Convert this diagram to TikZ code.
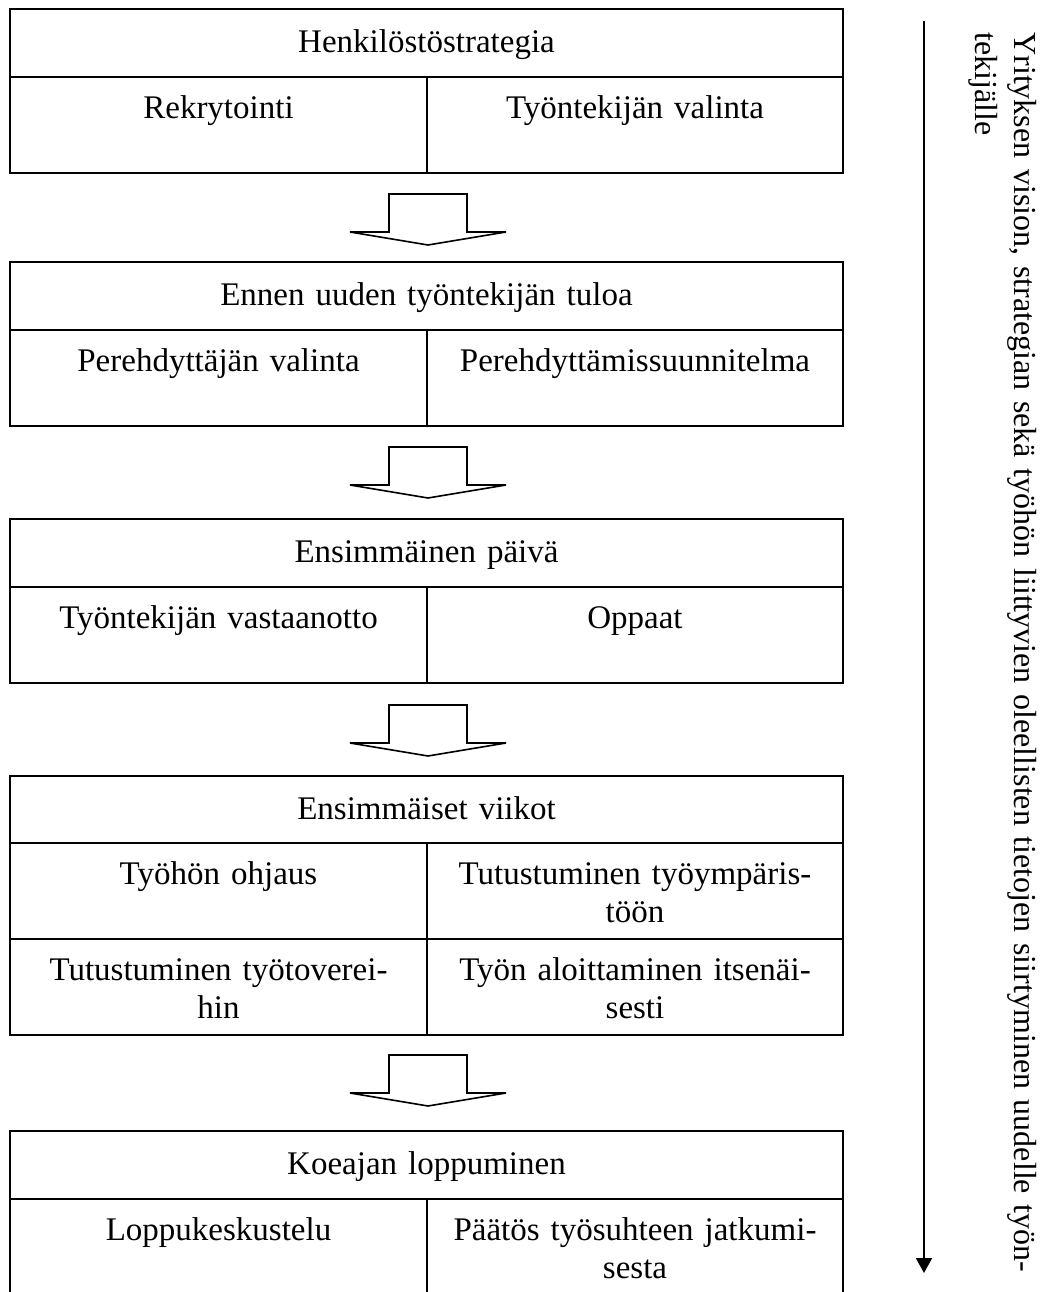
\documentclass[tikz,border=0pt]{standalone}
\usepackage{fontspec}
\setmainfont{Liberation Serif}
\usetikzlibrary{arrows.meta}

\newcommand\cellfont{\fontsize{16.5}{19}\selectfont}
\newcommand\sidefont{\fontsize{16}{19.5}\selectfont}
% fixed first-line height so every label sits on the same baseline
\newcommand\firstline{\rule{0pt}{13pt}}

% one phase: outer frame, header row and two cells below it
\newcommand\stage[5]{%
  \draw[frame] (10,#2) rectangle (843,{#2+164});
  \draw[frame] (10,{#2+68}) -- (843,{#2+68});
  \draw[frame] (427,{#2+68}) -- (427,{#2+164});
  \node[head] (#1h) at (426.5,{#2+17}) {\firstline #3};
  \node[cell] (#1l) at (218.5,{#2+83}) {\firstline #4};
  \node[cell] (#1r) at (635,{#2+83}) {\firstline #5};
}

\begin{document}
\begin{tikzpicture}[x=0.5pt,y=-0.5pt,
  frame/.style={line width=1pt},
  head/.style={anchor=north,inner sep=0pt,text width=400pt,align=center,font=\cellfont},
  cell/.style={anchor=north,inner sep=0pt,text width=205pt,align=center,font=\cellfont},
  pics/blockarrow/.style={code={
    \draw[line width=0.8pt,line join=miter]
      (-39,0) -- (39,0) -- (39,38) -- (78,38) -- (0,51) -- (-78,38) -- (-39,38) -- cycle;}},
]
\useasboundingbox (0,0) rectangle (1046,1292);
\clip (0,0) rectangle (1046,1292);

\stage{s1}{9}{Henkilöstöstrategia}{Rekrytointi}{Työntekijän valinta}
\pic at (428,194) {blockarrow};
\stage{s2}{262}{Ennen uuden työntekijän tuloa}{Perehdyttäjän valinta}{Perehdyttämissuunnitelma}
\pic at (428,447) {blockarrow};
\stage{s3}{519}{Ensimmäinen päivä}{Työntekijän vastaanotto}{Oppaat}
\pic at (428,705) {blockarrow};

% four-cell phase
\draw[frame] (10,776) rectangle (843,1035);
\draw[frame] (10,843) -- (843,843);
\draw[frame] (10,939) -- (843,939);
\draw[frame] (427,843) -- (427,1035);
\node[head] (s4h) at (426.5,793) {\firstline Ensimmäiset viikot};
\node[cell] (s4a) at (218.5,858) {\firstline Työhön ohjaus};
\node[cell] (s4b) at (635,858) {\firstline Tutustuminen työympäris-\\töön};
\node[cell] (s4c) at (218.5,954) {\firstline Tutustuminen työtoverei-\\hin};
\node[cell] (s4d) at (635,954) {\firstline Työn aloittaminen itsenäi-\\sesti};
\pic at (428,1055) {blockarrow};

\stage{s5}{1131}{Koeajan loppuminen}{Loppukeskustelu}{Päätös työsuhteen jatkumi-\\sesta}

% time axis with its caption
\coordinate (axtop) at (924,21);
\coordinate (axend) at (924,1273);
\draw[line width=1pt,-{Triangle[width=8pt,length=7.5pt]}] (axtop) -- (axend);
\node[rotate=-90,anchor=north west,inner sep=0pt,text width=622.5pt,align=left,font=\sidefont]
  (caption) at (1041,32)
  {\firstline\makebox[622.5pt][s]{Yrityksen vision, strategian sekä työhön liittyvien oleellisten tietojen siirtyminen uudelle työn-}\\tekijälle};
\end{tikzpicture}
\end{document}
